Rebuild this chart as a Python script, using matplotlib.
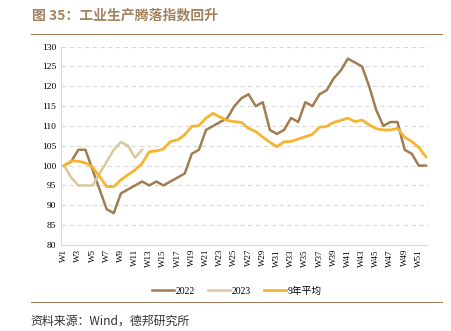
import numpy as np
import matplotlib.pyplot as plt
from matplotlib.lines import Line2D

plt.rcParams['font.family'] = ['Noto Sans CJK SC', 'DejaVu Sans']

# Weekly diffusion index, W1 = 100
weeks = ['W%d' % i for i in range(1, 53)]
v2022 = [100, 101, 104, 104, 99, 94, 89, 88, 93, 94,
         95, 96, 95, 96, 95, 96, 97, 98, 103, 104,
         109, 110, 111, 112, 115, 117, 118, 115, 116, 109,
         108, 109, 112, 111, 116, 115, 118, 119, 122, 124,
         127, 126, 125, 120, 114, 110, 111, 111, 104, 103,
         100, 100]
v2023 = [100, 97, 95, 95, 95, 98, 101, 104, 106, 105, 102, 104]
avg9 = [100, 101.2, 101.1, 100.7, 99.6, 97.3, 94.7, 94.7, 96.4, 97.7,
        98.9, 100.6, 103.5, 103.7, 104.2, 106.1, 106.5, 107.8, 109.9, 110.1,
        112.0, 113.2, 112.2, 111.4, 111.1, 110.9, 109.4, 108.6, 107.2, 105.9,
        104.8, 106.0, 106.1, 106.7, 107.3, 107.9, 109.7, 109.9, 110.9, 111.4,
        112.0, 111.1, 111.5, 110.3, 109.3, 109.0, 109.0, 109.4, 107.2, 106.1,
        104.6, 102.2]

c2022 = '#a07d52'
c2023 = '#dcc69e'
cavg = '#f5b530'
brown = '#a5825f'

fig = plt.figure(figsize=(4.52, 3.31), dpi=100)
ax = fig.add_axes([0.134, 0.26, 0.813, 0.599])

x = np.arange(len(weeks))
ax.plot(x, v2022, color=c2022, lw=1.8, label='2022')
ax.plot(x[:len(v2023)], v2023, color=c2023, lw=1.8, label='2023')
ax.plot(x, avg9, color=cavg, lw=2.0, label='9年平均')

ax.set_ylim(80, 130)
ax.set_yticks(np.arange(80, 131, 5))
ax.set_xlim(-0.5, 51.3)
ax.set_xticks(x[::2])
ax.set_xticklabels(weeks[::2], rotation=90, family='Liberation Serif', fontsize=6.5)
for lab in ax.get_yticklabels():
    lab.set_family('Liberation Serif')
    lab.set_fontsize(6.8)
ax.tick_params(length=0, pad=3)
ax.grid(axis='y', color='#d9d9d9', ls=(0, (4, 3)), lw=0.8)
ax.set_axisbelow(True)
for s in ['top', 'right']:
    ax.spines[s].set_visible(False)
for s in ['left', 'bottom']:
    ax.spines[s].set_color('#d9d9d9')
    ax.spines[s].set_linewidth(0.8)

leg = ax.legend(loc='upper center', bbox_to_anchor=(0.48, -0.165), ncol=3,
                frameon=False, fontsize=7, handlelength=2.3, columnspacing=1.3,
                handletextpad=0.2)
for t in leg.get_texts():
    t.set_family(['Liberation Serif', 'Noto Sans CJK SC'])

fig.text(0.071, 0.953, '图 35：工业生产腾落指数回升', color=brown, fontsize=10,
         fontweight='bold', va='center')
fig.add_artist(Line2D([0.068, 0.977], [0.897, 0.897], color=brown, lw=0.8))
fig.add_artist(Line2D([0.068, 0.977], [0.089, 0.089], color=brown, lw=0.8))
fig.text(0.068, 0.031, '资料来源：Wind，德邦研究所', color='#333333', fontsize=8.6,
         va='center')

fig.savefig('out.png', dpi=100)
